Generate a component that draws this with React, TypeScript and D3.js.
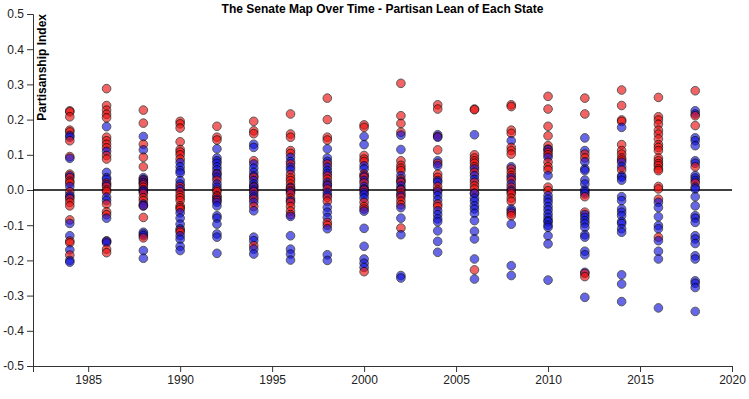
import React from "react";
import * as d3 from "d3";

const years = [1984, 1986, 1988, 1990, 1992, 1994, 1996, 1998, 2000, 2002, 2004, 2006, 2008, 2010, 2012, 2014, 2016, 2018];

const redValues: number[][] = [
  [0.225, 0.222, 0.208, 0.17, 0.165, 0.14, 0.095, 0.045, 0.035, 0.025, 0.02, -0.005, -0.025, -0.035, -0.045, -0.085, -0.145, -0.15, -0.185],
  [0.288, 0.24, 0.227, 0.215, 0.205, 0.15, 0.14, 0.13, 0.12, 0.098, 0.088, 0.02, 0.01, 0.0, -0.005, -0.04, -0.062, -0.07, -0.145, -0.168, -0.178],
  [0.227, 0.19, 0.13, 0.093, 0.066, 0.03, 0.022, 0.015, 0.008, 0.0, -0.01, -0.022, -0.03, -0.045, -0.078, -0.136],
  [0.195, 0.188, 0.176, 0.137, 0.115, 0.108, 0.1, 0.088, 0.01, -0.005, -0.015, -0.022, -0.03, -0.045, -0.05, -0.055, -0.115, -0.12],
  [0.181, 0.15, 0.142, 0.047, 0.028, 0.0, -0.005, -0.016, -0.02, -0.03],
  [0.195, 0.168, 0.16, 0.083, 0.036, 0.01, -0.005, -0.026, -0.047, -0.158],
  [0.216, 0.159, 0.15, 0.112, 0.104, 0.074, 0.044, 0.034, 0.027, 0.017, 0.005, -0.002, -0.011, -0.023, -0.035, -0.047, -0.06, -0.07],
  [0.261, 0.2, 0.15, 0.142, 0.074, 0.04, 0.031, 0.015, 0.003, -0.021, -0.032, -0.092, -0.1],
  [0.185, 0.178, 0.098, 0.088, 0.081, 0.045, 0.036, 0.02, 0.0, -0.035, -0.047, -0.054, -0.232],
  [0.303, 0.211, 0.189, 0.164, 0.083, 0.07, 0.062, 0.055, 0.031, 0.022, 0.0, -0.009, -0.021, -0.032, -0.042, -0.108],
  [0.242, 0.23, 0.152, 0.114, 0.076, 0.045, 0.036, 0.01, 0.0, -0.04, -0.047],
  [0.23, 0.228, 0.1, 0.091, 0.083, 0.076, 0.066, 0.05, 0.022, 0.012, 0.003, -0.009, -0.227],
  [0.242, 0.237, 0.17, 0.161, 0.121, 0.112, 0.102, 0.06, 0.05, 0.041, 0.028, 0.008, -0.005, -0.011, -0.023, -0.032, -0.066, -0.073],
  [0.266, 0.23, 0.181, 0.154, 0.126, 0.116, 0.107, 0.1, 0.079, 0.066, 0.057, 0.008, -0.002],
  [0.261, 0.216, 0.102, 0.091, -0.019, -0.063, -0.237, -0.246],
  [0.284, 0.24, 0.199, 0.195, 0.129, 0.112, 0.102, 0.091, 0.085, 0.057],
  [0.263, 0.208, 0.199, 0.187, 0.17, 0.159, 0.145, 0.129, 0.121, 0.112, 0.091, 0.083, 0.075, 0.069, 0.06, 0.055, 0.01, 0.003, -0.026, -0.134],
  [0.282, 0.211, 0.183, 0.066, 0.02],
];

const blueValues: number[][] = [
  [0.155, 0.15, 0.09, 0.04, 0.01, -0.015, -0.02, -0.095, -0.13, -0.17, -0.2, -0.205],
  [0.18, 0.11, 0.05, 0.035, 0.03, 0.015, -0.02, -0.03, -0.08, -0.145, -0.15],
  [0.152, 0.114, 0.035, 0.028, 0.02, 0.0, -0.005, -0.04, -0.045, -0.12, -0.125, -0.13, -0.172, -0.194],
  [0.078, 0.066, 0.055, 0.048, 0.027, 0.017, 0.003, -0.065, -0.08, -0.097, -0.11, -0.13, -0.14, -0.16, -0.172],
  [0.117, 0.091, 0.083, 0.076, 0.066, 0.057, 0.045, 0.036, 0.017, 0.008, -0.026, -0.035, -0.045, -0.073, -0.08, -0.097, -0.125, -0.134, -0.18],
  [0.13, 0.121, 0.074, 0.062, 0.05, 0.04, 0.027, 0.017, 0.008, 0.0, -0.013, -0.02, -0.035, -0.059, -0.134, -0.144, -0.168, -0.182],
  [0.093, 0.081, 0.065, 0.057, 0.008, -0.005, -0.03, -0.075, -0.13, -0.168, -0.182, -0.199],
  [0.117, 0.091, 0.081, 0.065, 0.055, 0.047, 0.022, 0.012, -0.007, -0.015, -0.049, -0.063, -0.078, -0.11, -0.184, -0.2],
  [0.152, 0.129, 0.069, 0.06, 0.04, 0.027, 0.01, 0.003, -0.007, -0.013, -0.023, -0.06, -0.109, -0.16, -0.196, -0.208, -0.22],
  [0.156, 0.115, 0.041, 0.025, 0.012, 0.003, -0.015, -0.05, -0.08, -0.127, -0.243, -0.25],
  [0.157, 0.15, 0.083, 0.069, 0.027, 0.022, -0.005, -0.016, -0.028, -0.059, -0.07, -0.082, -0.09, -0.116, -0.146, -0.177],
  [0.157, 0.06, 0.041, 0.03, -0.01, -0.023, -0.032, -0.045, -0.054, -0.066, -0.087, -0.117, -0.139, -0.196, -0.253],
  [0.14, 0.066, 0.035, 0.017, 0.0, -0.054, -0.06, -0.097, -0.215, -0.243],
  [0.115, 0.093, 0.041, -0.016, -0.026, -0.035, -0.047, -0.057, -0.068, -0.078, -0.087, -0.09, -0.1, -0.106, -0.13, -0.153, -0.256],
  [0.148, 0.112, 0.08, 0.06, 0.055, 0.028, 0.017, 0.0, -0.005, -0.011, -0.07, -0.078, -0.087, -0.095, -0.106, -0.127, -0.134, -0.174, -0.184, -0.234, -0.305],
  [0.178, 0.079, 0.066, 0.04, 0.036, 0.028, -0.019, -0.03, -0.054, -0.063, -0.073, -0.09, -0.095, -0.11, -0.12, -0.241, -0.267, -0.317],
  [-0.035, -0.05, -0.076, -0.101, -0.11, -0.144, -0.174, -0.196, -0.335],
  [0.225, 0.216, 0.148, 0.14, 0.126, 0.083, 0.076, 0.041, 0.034, 0.027, 0.008, 0.003, -0.019, -0.045, -0.073, -0.08, -0.092, -0.13, -0.139, -0.152, -0.187, -0.196, -0.258, -0.265, -0.277, -0.345],
];

const yTicks = [-0.5, -0.4, -0.3, -0.2, -0.1, 0, 0.1, 0.2, 0.3, 0.4, 0.5];
const xTicks = [1985, 1990, 1995, 2000, 2005, 2010, 2015, 2020];

const W = 749;
const H = 399;

export default function App() {
  const x = d3.scaleLinear().domain([1982, 2020]).range([33, 732]);
  const y = d3.scaleLinear().domain([-0.5, 0.5]).range([366, 14]);

  const xAxisRef = React.useRef<SVGGElement>(null);
  const yAxisRef = React.useRef<SVGGElement>(null);

  React.useEffect(() => {
    if (xAxisRef.current) {
      const g = d3.select(xAxisRef.current);
      g.call(d3.axisBottom(x).tickValues(xTicks).tickFormat((d: any) => String(d)).tickSizeOuter(6) as any);
      g.selectAll("text").attr("font-size", 12).attr("fill", "#222").attr("font-family", "Liberation Sans, Arial, sans-serif");
      g.selectAll("path,line").attr("stroke", "#333");
    }
    if (yAxisRef.current) {
      const g = d3.select(yAxisRef.current);
      g.call(d3.axisLeft(y).tickValues(yTicks).tickFormat((d: any) => (+d).toFixed(1)).tickSizeOuter(6) as any);
      g.selectAll("text").attr("font-size", 12).attr("fill", "#222").attr("font-family", "Liberation Sans, Arial, sans-serif");
      g.selectAll("path,line").attr("stroke", "#333");
    }
  }, []);

  const circles: React.ReactNode[] = [];
  years.forEach((yr, i) => {
    const reds = redValues[i].map((v) => ({ v, c: "red" }));
    const blues = blueValues[i].map((v) => ({ v, c: "blue" }));
    const all = [...reds, ...blues].sort((a, b) => b.v - a.v);
    all.forEach((p, j) => {
      circles.push(
        <circle
          key={`${yr}-${j}`}
          cx={x(yr)}
          cy={y(p.v)}
          r={4.3}
          fill={p.c === "red" ? "#ee1111" : "#1515dd"}
          stroke="#000"
          strokeWidth={1}
          opacity={0.65}
        />
      );
    });
  });

  return (
    <svg width={W} height={H} style={{ position: "absolute", left: 0, top: 0, display: "block", background: "#fff" }}>
      <text x={382.5} y={13} textAnchor="middle" fontSize={12} fontWeight="bold" fontFamily="Liberation Sans, Arial, sans-serif" fill="#000">
        The Senate Map Over Time - Partisan Lean of Each State
      </text>
      <g ref={xAxisRef} transform={`translate(0,${y(-0.5)})`} />
      <g ref={yAxisRef} transform={`translate(${x(1982)},0)`} />
      <text transform="translate(46,14) rotate(-90)" textAnchor="end" fontSize={12} fontWeight="bold" fontFamily="Liberation Sans, Arial, sans-serif" fill="#000">
        Partisanship Index
      </text>
      <line x1={x(1982)} x2={x(2020)} y1={y(0)} y2={y(0)} stroke="#000" strokeWidth={1.5} />
      {circles}
    </svg>
  );
}
